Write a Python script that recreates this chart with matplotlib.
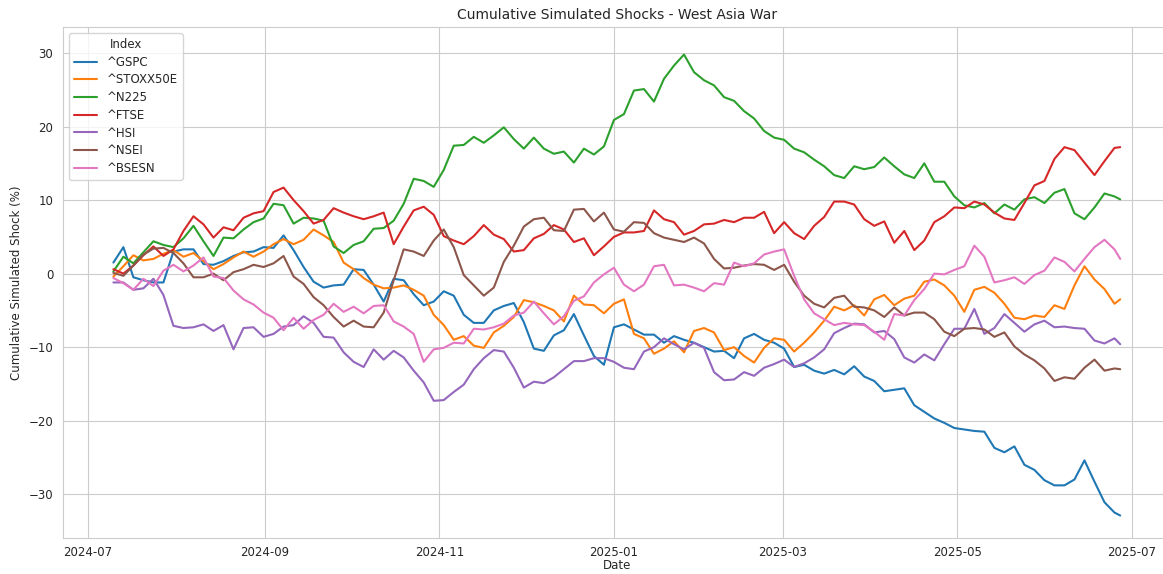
import pandas as pd
import matplotlib
matplotlib.use('Agg')
import matplotlib.pyplot as plt
import seaborn as sns

# fechas cada 3.5 dias (lectura aproximada del grafico original)
fechas = list(pd.date_range('2024-07-10', periods=101, freq='84h')) + [pd.Timestamp('2025-06-27')]

indices = ['^GSPC', '^STOXX50E', '^N225', '^FTSE', '^HSI', '^NSEI', '^BSESN']

gspc = [1.5, 3.6, -0.5, -0.9, -1.2, -1.2, 3.0, 3.3, 3.3, 1.3,
        1.2, 1.7, 2.4, 2.9, 3.0, 3.6, 3.5, 5.2, 3.2, 0.9,
        -1.1, -1.9, -1.6, -1.5, 0.6, 0.5, -1.5, -3.8, -0.7, -0.9,
        -2.8, -4.3, -3.8, -2.4, -3.0, -5.6, -6.7, -6.7, -5.0, -4.4,
        -4.0, -6.6, -10.2, -10.5, -8.4, -7.7, -5.5, -8.4, -11.2, -12.4,
        -7.3, -6.9, -7.6, -8.3, -8.3, -9.4, -8.5, -9.0, -9.4, -10.0,
        -10.6, -10.5, -11.5, -8.8, -8.2, -9.0, -9.4, -10.2, -12.7, -12.4,
        -13.2, -13.6, -13.1, -13.7, -12.6, -14.0, -14.6, -16.0, -15.8, -15.6,
        -17.9, -18.8, -19.7, -20.3, -21.0, -21.2, -21.4, -21.5, -23.7, -24.3,
        -23.5, -26.0, -26.7, -28.1, -28.8, -28.8, -28.0, -25.4, -28.3, -31.1,
        -32.5, -32.9]
stoxx = [-0.4, 1.0, 2.5, 1.8, 2.0, 2.7, 3.2, 2.3, 2.8, 1.7,
         0.6, 1.3, 2.2, 3.0, 2.3, 3.0, 4.0, 4.7, 4.0, 4.6,
         6.0, 5.2, 4.3, 1.5, 0.6, -0.6, -1.5, -2.0, -1.9, -1.6,
         -2.2, -3.0, -5.6, -7.0, -9.0, -8.5, -9.8, -10.1, -8.0, -7.1,
         -5.9, -3.6, -3.9, -4.4, -5.0, -6.5, -3.0, -4.2, -4.3, -5.4,
         -4.1, -3.5, -8.2, -8.8, -10.9, -10.2, -9.2, -10.7, -7.8, -7.4,
         -8.0, -10.4, -10.0, -11.2, -12.1, -10.1, -8.8, -9.0, -10.6, -9.4,
         -8.0, -6.4, -4.5, -5.0, -4.3, -5.7, -3.5, -2.9, -4.3, -3.4,
         -3.0, -1.1, -0.8, -1.6, -3.0, -5.2, -2.2, -1.8, -2.6, -4.1,
         -6.0, -6.2, -5.7, -5.9, -4.3, -4.8, -1.6, 1.0, -0.8, -2.1,
         -4.1, -3.5]
n225 = [0.3, 2.3, 1.4, 2.9, 4.4, 3.9, 3.6, 4.8, 6.5, 4.4,
        2.4, 4.9, 4.8, 6.0, 7.0, 7.5, 9.5, 9.3, 6.8, 7.6,
        7.5, 7.2, 3.7, 2.8, 3.9, 4.4, 6.1, 6.2, 7.2, 9.5,
        12.9, 12.6, 11.8, 14.1, 17.4, 17.5, 18.6, 17.8, 18.8, 19.9,
        18.3, 17.0, 18.5, 17.0, 16.3, 16.6, 15.1, 17.0, 16.2, 17.3,
        20.9, 21.7, 24.9, 25.1, 23.4, 26.5, 28.3, 29.8, 27.4, 26.3,
        25.6, 24.0, 23.5, 22.1, 21.1, 19.4, 18.5, 18.2, 17.0, 16.5,
        15.5, 14.6, 13.4, 13.0, 14.6, 14.2, 14.5, 15.8, 14.6, 13.5,
        13.0, 15.0, 12.5, 12.5, 10.5, 9.3, 9.0, 9.6, 8.2, 9.4,
        8.7, 10.1, 10.4, 9.6, 11.0, 11.5, 8.2, 7.4, 9.0, 10.9,
        10.5, 10.1]
ftse = [0.6, 0.0, 1.1, 2.5, 3.7, 2.4, 3.3, 5.8, 7.8, 6.7,
        4.9, 6.3, 5.9, 7.6, 8.2, 8.5, 11.1, 11.7, 10.0, 8.5,
        6.8, 7.3, 8.9, 8.3, 7.8, 7.4, 7.8, 8.3, 4.0, 6.4,
        8.6, 9.1, 8.0, 5.1, 4.5, 4.0, 5.1, 6.6, 5.3, 4.7,
        3.0, 3.2, 4.8, 5.4, 6.6, 6.0, 4.3, 4.8, 2.5, 3.7,
        5.0, 5.6, 5.6, 5.8, 8.6, 7.4, 7.0, 5.3, 5.8, 6.7,
        6.8, 7.3, 7.0, 7.6, 7.6, 8.4, 5.5, 7.0, 5.5, 4.7,
        6.5, 7.7, 9.8, 9.8, 9.4, 7.4, 6.5, 7.1, 4.2, 5.8,
        3.2, 4.5, 7.0, 7.8, 9.0, 8.9, 9.8, 9.4, 8.3, 7.5,
        7.3, 9.6, 12.0, 12.6, 15.6, 17.2, 16.8, 15.1, 13.4, 15.3,
        17.1, 17.2]
hsi = [-1.2, -1.2, -2.2, -2.0, -0.7, -2.9, -7.1, -7.4, -7.3, -6.9,
       -7.8, -7.0, -10.3, -7.4, -7.3, -8.6, -8.2, -7.2, -7.0, -5.8,
       -6.7, -8.6, -8.7, -10.7, -12.0, -12.7, -10.3, -11.7, -10.5, -11.4,
       -13.2, -14.8, -17.3, -17.2, -16.1, -15.1, -13.0, -11.5, -10.4, -10.6,
       -12.8, -15.5, -14.7, -14.9, -14.1, -13.0, -11.9, -11.9, -11.5, -11.5,
       -12.0, -12.8, -13.0, -10.6, -10.0, -8.8, -9.6, -10.3, -9.4, -10.1,
       -13.4, -14.5, -14.4, -13.4, -13.9, -12.8, -12.3, -11.7, -12.7, -12.2,
       -11.4, -10.3, -8.1, -7.4, -6.8, -6.9, -8.0, -7.8, -8.9, -11.4,
       -12.1, -11.0, -11.8, -9.6, -7.5, -7.5, -4.8, -8.2, -7.4, -5.5,
       -6.7, -7.9, -6.9, -6.4, -7.3, -7.2, -7.4, -7.5, -9.1, -9.5,
       -8.8, -9.6]
nsei = [0.1, -0.3, 1.1, 2.6, 3.4, 3.5, 2.8, 1.4, -0.5, -0.5,
        0.0, -0.9, 0.2, 0.6, 1.2, 0.9, 1.4, 2.4, -0.4, -1.4,
        -3.2, -4.3, -5.9, -7.2, -6.4, -7.2, -7.3, -5.3, -0.9, 3.3,
        3.0, 2.4, 4.5, 6.0, 3.6, -0.2, -1.6, -3.0, -1.9, 1.6,
        3.8, 6.4, 7.4, 7.6, 5.9, 5.8, 8.7, 8.8, 7.1, 8.3,
        6.0, 5.7, 7.0, 6.9, 5.5, 4.9, 4.6, 4.3, 4.9, 4.1,
        2.0, 0.7, 0.8, 1.1, 1.3, 1.2, 0.5, 1.2, -1.1, -3.0,
        -4.1, -4.6, -3.3, -3.0, -4.5, -4.6, -5.0, -5.9, -4.6, -5.7,
        -5.3, -5.3, -6.2, -7.9, -8.5, -7.5, -7.4, -7.6, -8.6, -8.0,
        -9.9, -11.0, -11.8, -12.9, -14.6, -14.1, -14.3, -12.8, -11.7, -13.2,
        -12.9, -13.0]
bsesn = [-0.6, -1.3, -2.2, -0.7, -1.7, 0.4, 1.2, 0.3, 1.1, 2.2,
         -0.4, -0.6, -2.3, -3.5, -4.2, -5.3, -6.0, -7.7, -6.0, -7.5,
         -6.3, -5.6, -4.1, -5.2, -4.5, -5.4, -4.4, -4.3, -6.5, -7.2,
         -8.2, -12.0, -10.3, -10.1, -9.4, -9.5, -7.5, -7.6, -7.3, -6.8,
         -5.7, -5.3, -3.8, -5.4, -6.9, -5.8, -3.7, -3.1, -1.2, -0.1,
         0.8, -1.5, -2.4, -1.5, 1.0, 1.2, -1.6, -1.5, -1.9, -2.4,
         -1.3, -1.5, 1.5, 1.0, 1.4, 2.6, 3.0, 3.3, -0.3, -3.5,
         -5.4, -6.2, -7.0, -6.7, -6.9, -7.0, -7.9, -9.0, -5.5, -5.7,
         -3.6, -2.1, 0.0, -0.1, 0.5, 1.0, 3.8, 2.3, -1.2, -0.9,
         -0.5, -1.4, -0.2, 0.4, 2.2, 1.6, 0.3, 2.0, 3.6, 4.6,
         3.3, 2.0]

df = pd.DataFrame({'^GSPC': gspc, '^STOXX50E': stoxx, '^N225': n225, '^FTSE': ftse,
                   '^HSI': hsi, '^NSEI': nsei, '^BSESN': bsesn}, index=fechas)

sns.set_style('whitegrid')
fig, ax = plt.subplots(figsize=(11.63, 5.74), dpi=100)
# el original esta recortado a la derecha, por eso right > 1
fig.subplots_adjust(left=0.0542, right=1.0065, top=0.9524, bottom=0.0622)

for nombre in indices:
    ax.plot(df.index, df[nombre], label=nombre, linewidth=1.5)

ax.set_ylim(-36.0, 33.5)
ax.set_title('Cumulative Simulated Shocks - West Asia War', fontsize=10)
ax.set_xlabel('Date', fontsize=8.5, labelpad=0)
ax.set_ylabel('Cumulative Simulated Shock (%)', fontsize=8.5)
ax.tick_params(labelsize=8.5)
ax.tick_params(axis='x', pad=2)
ax.legend(title='Index', loc='upper left', fontsize=8.5, title_fontsize=8.5, labelspacing=0.4)

fig.savefig('out.png')
